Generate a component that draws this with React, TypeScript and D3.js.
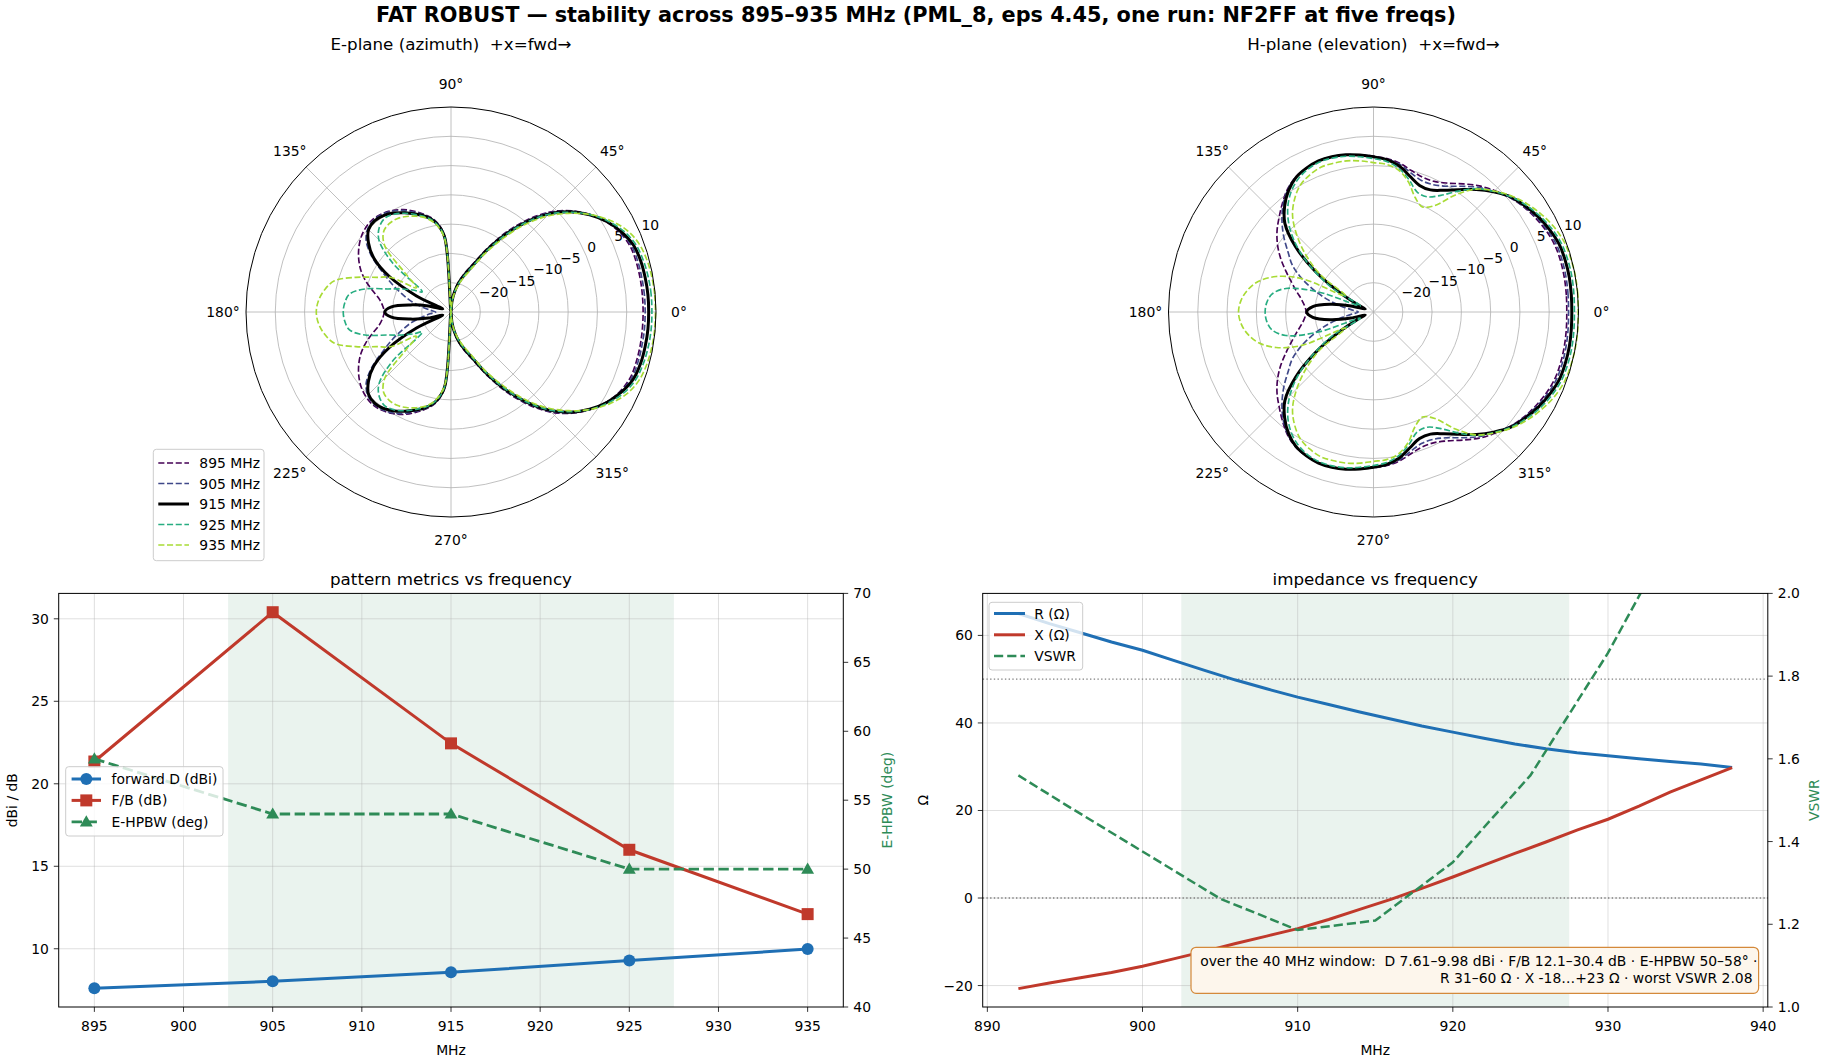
import * as d3 from "d3";

const FONT = "DejaVu Sans";
const W = 1829;
const H = 1062;

// ---------- radiation pattern cuts (dBi), upper half 0..180 deg, mirrored below ----------
const FREQS = [895, 905, 915, 925, 935];
const FREQ_COLORS = ["#440154", "#3f4889", "#000000", "#27ad81", "#a8db34"];
const CUT_ANGLES = [0, 5, 10, 15, 20, 25, 30, 35, 40, 45, 50, 55, 60, 65, 70, 75, 80, 85, 90,
  95, 100, 105, 110, 115, 120, 125, 130, 135, 140, 145, 150, 155, 160, 165, 170, 175, 180];

const E_895 = [7.8, 7.8, 7.8, 7.75, 7.6, 6.9, 5.7, 4.0, 1.9, -0.8, -4.3, -8.2, -12.3, -15.8, -17.8, -19.5, -21.3, -23.2, -25,
  -11.8, -9.1, -7.8, -6.7, -5.7, -5.0, -4.5, -4.3, -4.5, -5.0, -5.8, -6.8, -8.0, -9.5, -11.2, -12.6, -13.3, -13.6];
const E_905 = [8.15, 8.15, 8.1, 8.05, 7.85, 7.05, 5.75, 3.95, 1.75, -1.0, -4.6, -8.5, -12.6, -16.0, -18.0, -19.6, -21.4, -23.2, -25,
  -11.9, -9.2, -7.9, -6.9, -5.9, -5.1, -4.6, -4.5, -4.9, -6.1, -8.5, -11.6, -14.0, -16.2, -18.0, -20.0, -21.4, -22.4];
const E_915 = [8.75, 8.75, 8.67, 8.55, 8.2, 7.2, 5.8, 3.9, 1.6, -1.3, -4.9, -8.9, -12.9, -16.3, -18.2, -19.8, -21.5, -23.3, -25,
  -12.0, -9.4, -8.1, -7.2, -6.3, -5.5, -4.9, -4.7, -5.1, -6.6, -8.9, -12.8, -18.5, -23.5, -21, -18, -14.8, -13.7];
const E_925 = [9.3, 9.3, 9.2, 9.0, 8.6, 7.6, 6.0, 4.0, 1.5, -1.4, -5.0, -9.1, -13.1, -16.5, -18.4, -20, -21.6, -23.4, -25,
  -12.1, -9.5, -8.2, -7.3, -6.4, -5.7, -5.4, -6.0, -7.6, -12.0, -19.0, -17.5, -15.7, -13.5, -9.8, -7.4, -6.8, -6.6];
const E_935 = [9.9, 9.9, 9.8, 9.6, 9.15, 8.1, 6.3, 4.0, 1.2, -1.9, -5.6, -9.8, -13.6, -17.0, -18.8, -20.3, -21.8, -23.5, -25,
  -12.4, -9.7, -8.4, -7.6, -7.0, -6.6, -6.6, -7.1, -9.0, -15.0, -17.8, -13.2, -11.0, -7.7, -4.4, -3.1, -2.3, -2.0];

const H_895 = [8.0, 8.05, 8.1, 8.1, 8.0, 7.6, 7.0, 6.3, 5.4, 4.3, 3.1, 1.7, 0.4, -0.4, -0.5, 0.0, 0.8, 1.3, 1.6,
  1.9, 2.2, 2.4, 2.4, 2.1, 1.6, 0.6, -0.8, -2.2, -3.5, -5.0, -6.7, -8.5, -10.1, -11.4, -12.5, -13.2, -13.5];
const H_905 = [8.3, 8.35, 8.4, 8.4, 8.3, 7.85, 7.2, 6.4, 5.4, 4.1, 2.8, 1.2, -0.2, -1.0, -1.1, -0.4, 0.6, 1.2, 1.55,
  1.9, 2.25, 2.45, 2.45, 2.1, 1.55, 0.5, -1.0, -2.9, -5.0, -7.2, -9.0, -11.5, -14.3, -17.0, -19.5, -21.5, -22.4];
const H_915 = [8.86, 8.9, 8.95, 8.9, 8.75, 8.2, 7.5, 6.6, 5.6, 4.0, 2.3, 0.5, -1.0, -2.0, -2.0, -1.0, 0.3, 1.1, 1.5,
  1.9, 2.25, 2.45, 2.45, 2.1, 1.5, 0.3, -1.4, -3.6, -7.6, -12.8, -18.3, -22, -23.5, -21, -17.5, -14.6, -13.6];
const H_925 = [9.3, 9.35, 9.4, 9.35, 9.15, 8.6, 7.8, 6.8, 5.6, 4.1, 2.5, 0.2, -2.0, -3.3, -3.2, -1.6, -0.1, 0.8, 1.2,
  1.6, 2.0, 2.2, 2.2, 1.8, 1.0, -0.3, -2.2, -4.8, -8.2, -12.5, -17, -22.5, -15.0, -9.5, -7.4, -6.7, -6.5];
const H_935 = [9.95, 10.0, 10.0, 9.9, 9.7, 9.1, 8.2, 7.1, 5.8, 4.2, 2.4, -0.6, -4.0, -5.2, -4.2, -2.0, -0.4, 0.3, 0.5,
  0.9, 1.2, 1.3, 1.3, 0.8, 0.0, -1.5, -3.5, -6.5, -10, -14, -19.5, -11.5, -7.3, -4.7, -3.2, -2.3, -1.95];

const E_CUTS = [E_895, E_905, E_915, E_925, E_935];
const H_CUTS = [H_895, H_905, H_915, H_925, H_935];

const R_MIN = -25;
const R_MAX = 10;
const R_TICKS = [-20, -15, -10, -5, 0, 5, 10];
const THETA_TICKS = [0, 45, 90, 135, 180, 225, 270, 315];

// ---------- pattern metrics ----------
const MET_FREQ = [895, 905, 915, 925, 935];
const FWD_D = [7.61, 8.03, 8.57, 9.29, 9.98];
const FB = [21.35, 30.4, 22.45, 16.0, 12.1];
const E_HPBW = [58, 54, 54, 50, 50];

// ---------- impedance ----------
const Z_FREQ = [892, 894, 896, 898, 900, 902, 904, 906, 908, 910, 912, 914, 916, 918, 920, 922, 924, 926, 928, 930, 932, 934, 936, 938];
const R_OHM = [65.0, 62.7, 60.6, 58.5, 56.6, 54.3, 52.0, 49.8, 47.8, 45.9, 44.2, 42.5, 40.9, 39.3, 37.9, 36.5, 35.2, 34.1, 33.2, 32.5, 31.8, 31.2, 30.6, 29.8];
const X_OHM = [-20.7, -19.4, -18.2, -17.0, -15.6, -13.9, -12.2, -10.4, -8.7, -7.0, -4.9, -2.6, -0.3, 2.2, 4.8, 7.5, 10.2, 12.8, 15.5, 18.0, 21.0, 24.2, 27.0, 29.8];
const VSWR_FREQ = [892, 895, 900, 905, 910, 915, 920, 925, 930, 935, 938];
const VSWR = [1.56, 1.49, 1.376, 1.262, 1.186, 1.209, 1.35, 1.56, 1.856, 2.2, 2.42];

const BAND = [902.5, 927.5];
const NOTE_LINES = [
  "over the 40 MHz window:  D 7.61–9.98 dBi · F/B 12.1–30.4 dB · E-HPBW 50–58° ·",
  "R 31–60 Ω · X -18…+23 Ω · worst VSWR 2.08",
];

const BLUE = "#1f6fb4";
const RED = "#c0392b";
const GREEN = "#2e8b57";
const TICK = 13.9;

const fmtNum = (v: number) => (v < 0 ? "\u2212" + Math.abs(v) : String(v));
const rad = (deg: number) => (deg * Math.PI) / 180;

function fullCut(vals: number[]): [number, number][] {
  const pts: [number, number][] = CUT_ANGLES.map((a, i) => [a, vals[i]]);
  for (let i = CUT_ANGLES.length - 2; i >= 1; i--) pts.push([360 - CUT_ANGLES[i], vals[i]]);
  return pts;
}

const POLAR_R = 205;

function PolarPanel({ cx, cy, title, cuts }: { cx: number; cy: number; title: string; cuts: number[][] }) {
  const r = d3.scaleLinear().domain([R_MIN, R_MAX]).range([0, POLAR_R]).clamp(true);
  const radial = d3
    .lineRadial<[number, number]>()
    .angle((d) => rad(90 - d[0]))
    .radius((d) => r(d[1]))
    .curve(d3.curveCatmullRomClosed.alpha(0.5));

  return (
    <g>
      <text x={cx} y={50} textAnchor="middle" fontSize={16.7} style={{ whiteSpace: "pre" }}>
        {title}
      </text>
      <g transform={`translate(${cx},${cy})`}>
        {R_TICKS.filter((t) => t < R_MAX).map((t) => (
          <circle key={t} r={r(t)} fill="none" stroke="#b0b0b0" strokeWidth={0.8} />
        ))}
        {THETA_TICKS.map((a) => (
          <line key={a} x1={0} y1={0} x2={POLAR_R * Math.cos(rad(a))} y2={-POLAR_R * Math.sin(rad(a))}
            stroke="#b0b0b0" strokeWidth={0.8} />
        ))}
        {R_TICKS.map((t) => {
          const rr = r(t);
          return (
            <text key={t} x={rr * Math.cos(rad(22.5)) + 1} y={-rr * Math.sin(rad(22.5)) - 4} fontSize={TICK}>
              {fmtNum(t)}
            </text>
          );
        })}
        {cuts.map((vals, i) => (
          <path key={i} d={radial(fullCut(vals)) ?? ""} fill="none" stroke={FREQ_COLORS[i]}
            strokeWidth={FREQS[i] === 915 ? 3 : 1.65}
            strokeDasharray={FREQS[i] === 915 ? undefined : "6.1 2.6"} />
        ))}
        <circle r={POLAR_R} fill="none" stroke="#000" strokeWidth={1} />
        {THETA_TICKS.map((a) => (
          <text key={a} x={228 * Math.cos(rad(a))} y={-228 * Math.sin(rad(a))} dy="0.36em"
            textAnchor="middle" fontSize={TICK}>
            {a}°
          </text>
        ))}
      </g>
    </g>
  );
}

function PolarLegend() {
  const x0 = 153.3, y0 = 449.3;
  return (
    <g>
      <rect x={x0} y={y0} width={110.7} height={111.4} rx={3} fill="#fff" fillOpacity={0.8} stroke="#cccccc" />
      {FREQS.map((f, i) => {
        const y = 463 + i * 20.5;
        return (
          <g key={f}>
            <line x1={158.3} x2={189} y1={y} y2={y} stroke={FREQ_COLORS[i]}
              strokeWidth={f === 915 ? 3 : 1.65} strokeDasharray={f === 915 ? undefined : "6.1 2.6"} />
            <text x={199.3} y={y} dy="0.36em" fontSize={TICK}>{f} MHz</text>
          </g>
        );
      })}
    </g>
  );
}

type Box = { left: number; right: number; top: number; bottom: number };

function Frame({ b }: { b: Box }) {
  return <rect x={b.left} y={b.top} width={b.right - b.left} height={b.bottom - b.top} fill="none" stroke="#000" strokeWidth={1} />;
}

const MK = 6; // marker half size

function MetricsPanel() {
  const b: Box = { left: 58.7, right: 843.3, top: 593.4, bottom: 1007 };
  const x = d3.scaleLinear().domain([893, 937]).range([b.left, b.right]);
  const y = d3.scaleLinear().domain([6.47, 31.54]).range([b.bottom, b.top]);
  const y2 = d3.scaleLinear().domain([40, 70]).range([b.bottom, b.top]);
  const xt = x.ticks(10);
  const yt = y.ticks(5);
  const y2t = y2.ticks(6);
  const line = (ys: d3.ScaleLinear<number, number>, vals: number[]) =>
    d3.line<number>().x((_, i) => x(MET_FREQ[i])).y((v) => ys(v))(vals) ?? "";
  const tri = d3.symbol().type(d3.symbolTriangle).size(72)() ?? "";
  const midY = (b.top + b.bottom) / 2;

  return (
    <g>
      <rect x={x(BAND[0])} y={b.top} width={x(BAND[1]) - x(BAND[0])} height={b.bottom - b.top} fill={GREEN} fillOpacity={0.1} />
      {xt.map((t) => <line key={"gx" + t} x1={x(t)} x2={x(t)} y1={b.top} y2={b.bottom} stroke="#b0b0b0" strokeOpacity={0.5} strokeWidth={0.8} />)}
      {yt.map((t) => <line key={"gy" + t} x1={b.left} x2={b.right} y1={y(t)} y2={y(t)} stroke="#b0b0b0" strokeOpacity={0.5} strokeWidth={0.8} />)}

      <path d={line(y, FWD_D)} fill="none" stroke={BLUE} strokeWidth={3} />
      {FWD_D.map((v, i) => <circle key={"d" + i} cx={x(MET_FREQ[i])} cy={y(v)} r={MK} fill={BLUE} />)}
      <path d={line(y, FB)} fill="none" stroke={RED} strokeWidth={3} />
      {FB.map((v, i) => <rect key={"f" + i} x={x(MET_FREQ[i]) - MK} y={y(v) - MK} width={2 * MK} height={2 * MK} fill={RED} />)}
      <path d={line(y2, E_HPBW)} fill="none" stroke={GREEN} strokeWidth={2.8} strokeDasharray="10.4 4.5" />
      {E_HPBW.map((v, i) => <path key={"h" + i} d={tri} transform={`translate(${x(MET_FREQ[i])},${y2(v) + 0.9})`} fill={GREEN} />)}

      <Frame b={b} />
      {xt.map((t) => (
        <g key={"xt" + t}>
          <line x1={x(t)} x2={x(t)} y1={b.bottom} y2={b.bottom + 4.9} stroke="#000" strokeWidth={0.8} />
          <text x={x(t)} y={b.bottom + 24} textAnchor="middle" fontSize={TICK}>{t}</text>
        </g>
      ))}
      {yt.map((t) => (
        <g key={"yt" + t}>
          <line x1={b.left - 4.9} x2={b.left} y1={y(t)} y2={y(t)} stroke="#000" strokeWidth={0.8} />
          <text x={b.left - 9.8} y={y(t)} dy="0.36em" textAnchor="end" fontSize={TICK}>{t}</text>
        </g>
      ))}
      {y2t.map((t) => (
        <g key={"y2t" + t}>
          <line x1={b.right} x2={b.right + 4.9} y1={y2(t)} y2={y2(t)} stroke="#000" strokeWidth={0.8} />
          <text x={b.right + 10} y={y2(t)} dy="0.36em" fontSize={TICK}>{t}</text>
        </g>
      ))}
      <text x={(b.left + b.right) / 2} y={585} textAnchor="middle" fontSize={16.7}>pattern metrics vs frequency</text>
      <text x={(b.left + b.right) / 2} y={1055} textAnchor="middle" fontSize={TICK}>MHz</text>
      <text transform={`translate(17,${midY}) rotate(-90)`} textAnchor="middle" fontSize={TICK}>dBi / dB</text>
      <text transform={`translate(892,${midY}) rotate(-90)`} textAnchor="middle" fontSize={TICK} fill={GREEN}>E-HPBW (deg)</text>

      <g>
        <rect x={65.7} y={766.7} width={157.3} height={69.3} rx={3} fill="#fff" fillOpacity={0.8} stroke="#cccccc" />
        {[
          { label: "forward D (dBi)", color: BLUE, kind: "o" },
          { label: "F/B (dB)", color: RED, kind: "s" },
          { label: "E-HPBW (deg)", color: GREEN, kind: "^" },
        ].map((e, i) => {
          const yy = 779 + i * 21.4;
          return (
            <g key={e.label}>
              <line x1={71.6} x2={101} y1={yy} y2={yy} stroke={e.color} strokeWidth={e.kind === "^" ? 2.8 : 3}
                strokeDasharray={e.kind === "^" ? "10.4 4.5" : undefined} />
              {e.kind === "o" && <circle cx={86.3} cy={yy} r={MK} fill={e.color} />}
              {e.kind === "s" && <rect x={86.3 - MK} y={yy - MK} width={2 * MK} height={2 * MK} fill={e.color} />}
              {e.kind === "^" && <path d={tri} transform={`translate(86.3,${yy + 0.9})`} fill={e.color} />}
              <text x={111.5} y={yy} dy="0.36em" fontSize={TICK}>{e.label}</text>
            </g>
          );
        })}
      </g>
    </g>
  );
}

function ImpedancePanel() {
  const b: Box = { left: 982.7, right: 1767.8, top: 593.4, bottom: 1007 };
  const x = d3.scaleLinear().domain([889.7, 940.3]).range([b.left, b.right]);
  const y = d3.scaleLinear().domain([-24.9, 69.6]).range([b.bottom, b.top]);
  const y2 = d3.scaleLinear().domain([1, 2]).range([b.bottom, b.top]);
  const xt = x.ticks(5);
  const yt = y.ticks(5);
  const y2t = y2.ticks(5);
  const zLine = (vals: number[]) => d3.line<number>().x((_, i) => x(Z_FREQ[i])).y((v) => y(v))(vals) ?? "";
  const vLine = d3.line<number>().x((_, i) => x(VSWR_FREQ[i])).y((v) => y2(v))(VSWR) ?? "";
  const midY = (b.top + b.bottom) / 2;
  const f2 = d3.format(".1f");

  return (
    <g>
      <defs>
        <clipPath id="imp-clip">
          <rect x={b.left} y={b.top} width={b.right - b.left} height={b.bottom - b.top} />
        </clipPath>
      </defs>
      <rect x={x(BAND[0])} y={b.top} width={x(BAND[1]) - x(BAND[0])} height={b.bottom - b.top} fill={GREEN} fillOpacity={0.1} />
      {xt.map((t) => <line key={"gx" + t} x1={x(t)} x2={x(t)} y1={b.top} y2={b.bottom} stroke="#b0b0b0" strokeOpacity={0.5} strokeWidth={0.8} />)}
      {yt.map((t) => <line key={"gy" + t} x1={b.left} x2={b.right} y1={y(t)} y2={y(t)} stroke="#b0b0b0" strokeOpacity={0.5} strokeWidth={0.8} />)}
      {[50, 0].map((v) => (
        <line key={"ref" + v} x1={b.left} x2={b.right} y1={y(v)} y2={y(v)} stroke="#808080" strokeWidth={1.3} strokeDasharray="1.4 2.3" />
      ))}
      <g clipPath="url(#imp-clip)">
        <path d={zLine(R_OHM)} fill="none" stroke={BLUE} strokeWidth={3} />
        <path d={zLine(X_OHM)} fill="none" stroke={RED} strokeWidth={3} />
        <path d={vLine} fill="none" stroke={GREEN} strokeWidth={2.5} strokeDasharray="9.2 4" />
      </g>
      <Frame b={b} />
      {xt.map((t) => (
        <g key={"xt" + t}>
          <line x1={x(t)} x2={x(t)} y1={b.bottom} y2={b.bottom + 4.9} stroke="#000" strokeWidth={0.8} />
          <text x={x(t)} y={b.bottom + 24} textAnchor="middle" fontSize={TICK}>{t}</text>
        </g>
      ))}
      {yt.map((t) => (
        <g key={"yt" + t}>
          <line x1={b.left - 4.9} x2={b.left} y1={y(t)} y2={y(t)} stroke="#000" strokeWidth={0.8} />
          <text x={b.left - 9.8} y={y(t)} dy="0.36em" textAnchor="end" fontSize={TICK}>{fmtNum(t)}</text>
        </g>
      ))}
      {y2t.map((t) => (
        <g key={"y2t" + t}>
          <line x1={b.right} x2={b.right + 4.9} y1={y2(t)} y2={y2(t)} stroke="#000" strokeWidth={0.8} />
          <text x={b.right + 10} y={y2(t)} dy="0.36em" fontSize={TICK}>{f2(t)}</text>
        </g>
      ))}
      <text x={(b.left + b.right) / 2} y={585} textAnchor="middle" fontSize={16.7}>impedance vs frequency</text>
      <text x={(b.left + b.right) / 2} y={1055} textAnchor="middle" fontSize={TICK}>MHz</text>
      <text transform={`translate(928,${midY}) rotate(-90)`} textAnchor="middle" fontSize={TICK}>Ω</text>
      <text transform={`translate(1819,${midY}) rotate(-90)`} textAnchor="middle" fontSize={TICK} fill={GREEN}>VSWR</text>

      <g>
        <rect x={989} y={602.3} width={93.7} height={67.7} rx={3} fill="#fff" fillOpacity={0.8} stroke="#cccccc" />
        {[
          { label: "R (Ω)", color: BLUE, dash: undefined as string | undefined, w: 3 },
          { label: "X (Ω)", color: RED, dash: undefined as string | undefined, w: 3 },
          { label: "VSWR", color: GREEN, dash: "9.2 4", w: 2.5 },
        ].map((e, i) => {
          const yy = 613.5 + i * 21.3;
          return (
            <g key={e.label}>
              <line x1={994} x2={1025} y1={yy} y2={yy} stroke={e.color} strokeWidth={e.w} strokeDasharray={e.dash} />
              <text x={1034.3} y={yy} dy="0.36em" fontSize={TICK}>{e.label}</text>
            </g>
          );
        })}
      </g>

      <g>
        <rect x={1191} y={947.3} width={567.6} height={46} rx={5} fill="#fdf6ec" stroke="#d4893a" strokeWidth={1.2} />
        <text x={1757.5} y={966} textAnchor="end" fontSize={TICK} style={{ whiteSpace: "pre" }}>{NOTE_LINES[0]}</text>
        <text x={1752.5} y={982.7} textAnchor="end" fontSize={TICK} style={{ whiteSpace: "pre" }}>{NOTE_LINES[1]}</text>
      </g>
    </g>
  );
}

export default function App() {
  return (
    <svg width={W} height={H} viewBox={`0 0 ${W} ${H}`} fontFamily={FONT}
      style={{ position: "absolute", left: 0, top: 0, display: "block" }}>
      <rect width={W} height={H} fill="#fff" />
      <text x={916} y={21.5} textAnchor="middle" fontSize={20.8} fontWeight="bold">
        FAT ROBUST — stability across 895–935 MHz (PML_8, eps 4.45, one run: NF2FF at five freqs)
      </text>
      <PolarPanel cx={451} cy={312} title="E-plane (azimuth)  +x=fwd→" cuts={E_CUTS} />
      <PolarPanel cx={1373.5} cy={312} title="H-plane (elevation)  +x=fwd→" cuts={H_CUTS} />
      <PolarLegend />
      <MetricsPanel />
      <ImpedancePanel />
    </svg>
  );
}
